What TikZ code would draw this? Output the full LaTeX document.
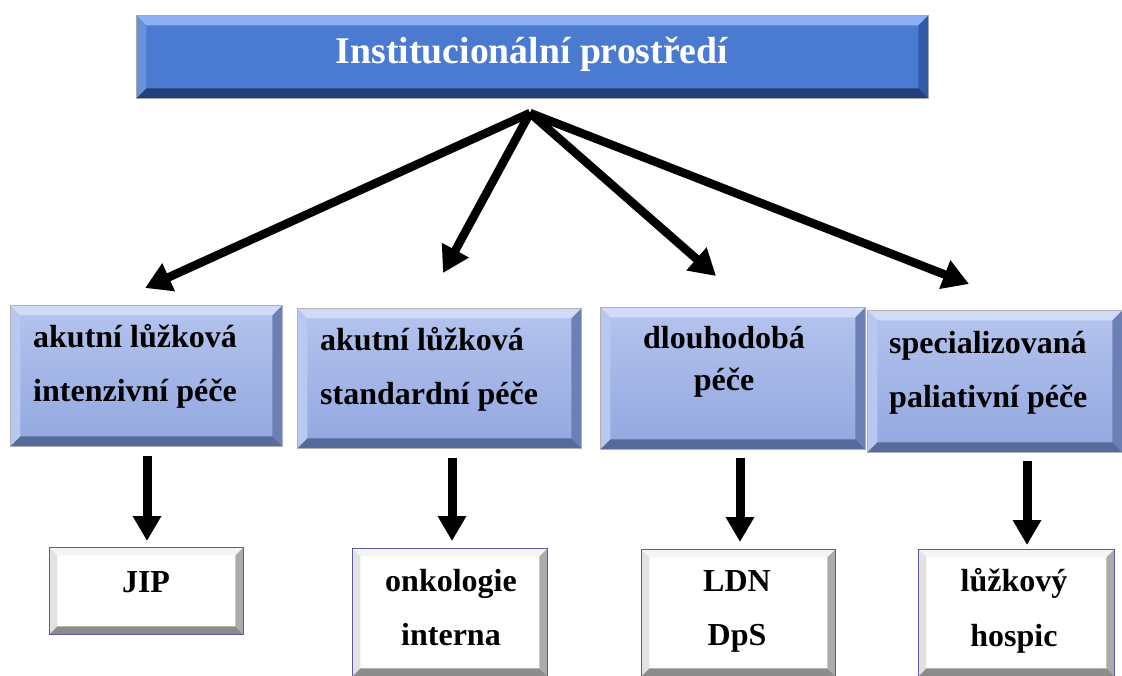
\documentclass[tikz,border=0pt]{standalone}
\usepackage{fontspec}
\setmainfont{Liberation Serif}
\usetikzlibrary{arrows.meta,calc}
\definecolor{topmain}{HTML}{4B7BD1}
\definecolor{toptop}{HTML}{8DB0F4}
\definecolor{topleft}{HTML}{6A92DC}
\definecolor{topright}{HTML}{2F5AA8}
\definecolor{topbot}{HTML}{23407A}
\definecolor{midA}{HTML}{B5C4EE}
\definecolor{midB}{HTML}{92A7E0}
\definecolor{midtop}{HTML}{D0DBF8}
\definecolor{midleft}{HTML}{B8C8F0}
\definecolor{midright}{HTML}{6C80B6}
\definecolor{midbot}{HTML}{58699B}
\definecolor{lowtop}{HTML}{F4F4F4}
\definecolor{lowleft}{HTML}{E2E2E2}
\definecolor{lowright}{HTML}{ABABAB}
\definecolor{lowbot}{HTML}{8C8C8C}
\tikzset{
  bevel/.style n args={5}{path picture={
    \fill[#1] (path picture bounding box.north west) -- (path picture bounding box.north east)
      -- ([shift={(-#5,#5)}]path picture bounding box.north east) -- ([shift={(#5,#5)}]path picture bounding box.north west) -- cycle;
    \fill[#2] (path picture bounding box.north west) -- (path picture bounding box.south west)
      -- ([shift={(#5,-#5)}]path picture bounding box.south west) -- ([shift={(#5,#5)}]path picture bounding box.north west) -- cycle;
    \fill[#3] (path picture bounding box.north east) -- (path picture bounding box.south east)
      -- ([shift={(-#5,-#5)}]path picture bounding box.south east) -- ([shift={(-#5,#5)}]path picture bounding box.north east) -- cycle;
    \fill[#4] (path picture bounding box.south west) -- (path picture bounding box.south east)
      -- ([shift={(-#5,-#5)}]path picture bounding box.south east) -- ([shift={(#5,-#5)}]path picture bounding box.south west) -- cycle;
  }},
  box/.style={rectangle, inner sep=0pt, anchor=north west},
  topbox/.style={box, fill=topmain, draw=gray!70, line width=0.8pt, bevel={toptop}{topleft}{topright}{topbot}{10}},
  midbox/.style={box, top color=midA, bottom color=midB, draw=gray!60, line width=0.8pt, bevel={midtop}{midleft}{midright}{midbot}{10}},
  lowbox/.style={box, fill=white, draw=blue!30!gray, line width=0.8pt, bevel={lowtop}{lowleft}{lowright}{lowbot}{8}},
  txt/.style={inner sep=0pt, font=\bfseries\fontsize{32}{38}\selectfont},
  toptxt/.style={inner sep=0pt, text=white, font=\bfseries\fontsize{37.7}{44}\selectfont},
  darrow/.style={line width=8.5pt, -{Triangle[length=26pt,width=29pt]}},
  varrow/.style={line width=9pt, -{Triangle[length=25pt,width=27pt]}},
}
\begin{document}
\begin{tikzpicture}[x=1pt,y=-1pt]
\useasboundingbox (0,0) rectangle (1122,675);
% top
\node[topbox, minimum width=792pt, minimum height=83pt] (top) at (136,15) {};
\node[toptxt, anchor=base] (toptext) at (532,63) {Institucionální prostředí};
% middle boxes
\node[midbox, minimum width=272pt, minimum height=141pt] (b1) at (10,305) {};
\node[midbox, minimum width=284pt, minimum height=140pt] (b2) at (297,308) {};
\node[midbox, minimum width=265pt, minimum height=142pt] (b3) at (600,307) {};
\node[midbox, minimum width=255pt, minimum height=142pt] (b4) at (867,310) {};
\node[txt, anchor=base west] (t1a) at (33,347) {akutní lůžková};
\node[txt, anchor=base west] (t1b) at (33,401) {intenzivní péče};
\node[txt, anchor=base west] (t2a) at (320,350) {akutní lůžková};
\node[txt, anchor=base west] (t2b) at (320,404) {standardní péče};
\node[txt, anchor=base] (t3a) at (724,348) {dlouhodobá};
\node[txt, anchor=base] (t3b) at (724,390) {péče};
\node[txt, anchor=base west] (t4a) at (889,353) {specializovaná};
\node[txt, anchor=base west] (t4b) at (889,407) {paliativní péče};
% bottom boxes
\node[lowbox, minimum width=194pt, minimum height=87pt] (c1) at (49,547) {};
\node[lowbox, minimum width=195pt, minimum height=128pt] (c2) at (352,548) {};
\node[lowbox, minimum width=194pt, minimum height=127pt] (c3) at (641,549) {};
\node[lowbox, minimum width=196pt, minimum height=127pt] (c4) at (918,549) {};
\node[txt, anchor=base] (u1) at (146,592) {JIP};
\node[txt, anchor=base] (u2a) at (451,591) {onkologie};
\node[txt, anchor=base] (u2b) at (451,645) {interna};
\node[txt, anchor=base] (u3a) at (737,591) {LDN};
\node[txt, anchor=base] (u3b) at (737,645) {DpS};
\node[txt, anchor=base] (u4a) at (1014,591) {lůžkový};
\node[txt, anchor=base] (u4b) at (1014,646) {hospic};
% diagonal arrows
\coordinate (apex) at (530,113);
\coordinate (e1) at (145,288);
\coordinate (e2) at (443,273);
\coordinate (e3) at (716,276);
\coordinate (e4) at (969,284);
\draw[darrow] (apex) -- (e1);
\draw[darrow] (apex) -- (e2);
\draw[darrow] (apex) -- (e3);
\draw[darrow] (apex) -- (e4);
% vertical arrows
\coordinate (v1) at (147,541);
\coordinate (v2) at (452,541);
\coordinate (v3) at (740,542);
\coordinate (v4) at (1027,545);
\draw[varrow] ([yshift=-9pt]b1.south -| v1) -- (v1);
\draw[varrow] ([yshift=-9pt]b2.south -| v2) -- (v2);
\draw[varrow] ([yshift=-8pt]b3.south -| v3) -- (v3);
\draw[varrow] ([yshift=-8pt]b4.south -| v4) -- (v4);
\end{tikzpicture}
\end{document}
